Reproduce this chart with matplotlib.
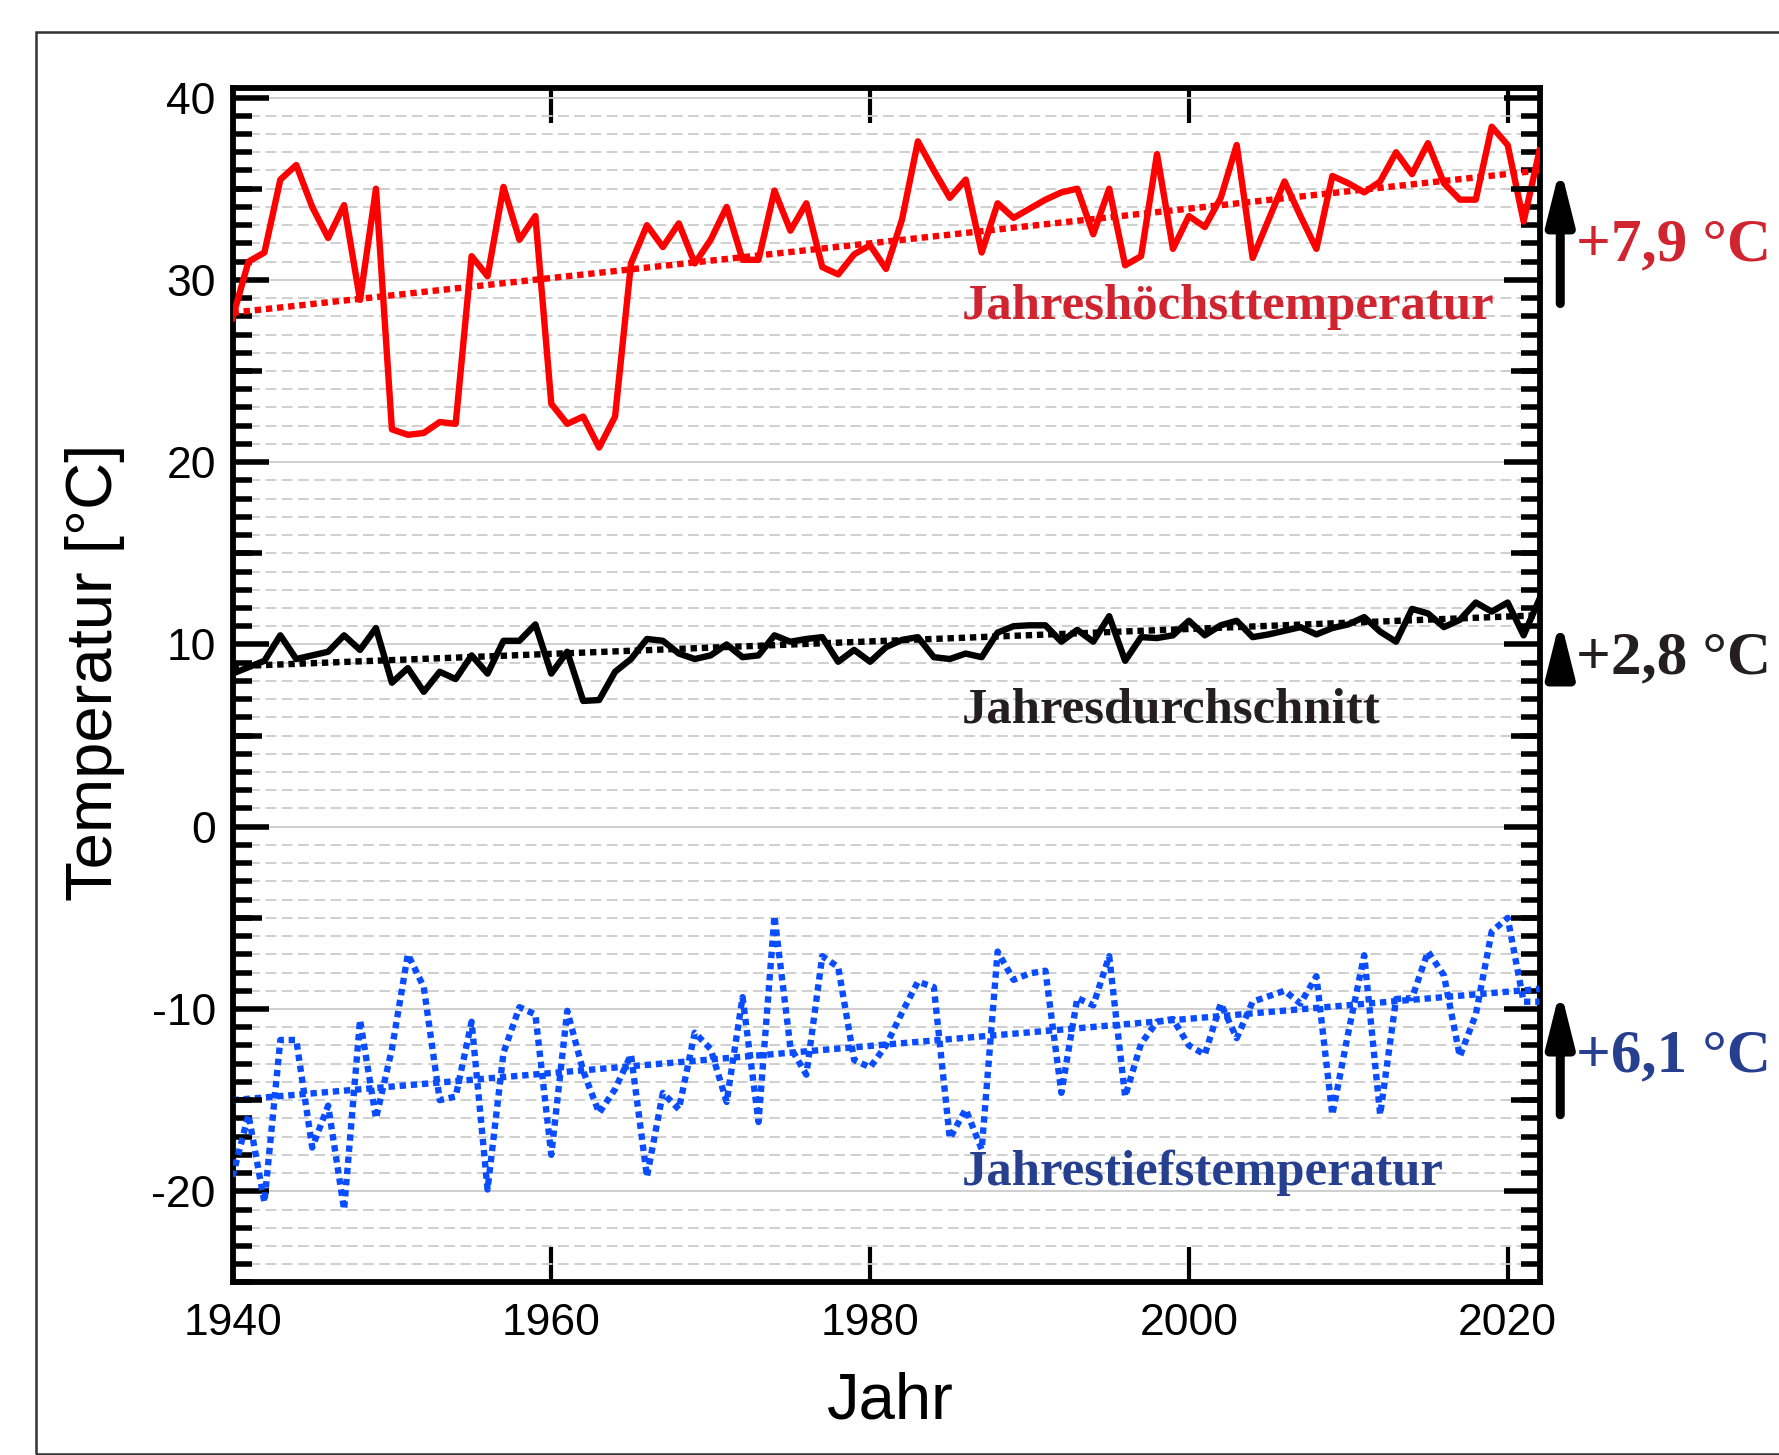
import matplotlib
matplotlib.use("Agg")
import matplotlib.pyplot as plt
import numpy as np
from matplotlib.patches import Rectangle
from matplotlib.ticker import FixedLocator, MultipleLocator, NullLocator

plt.rcParams['font.family'] = ['Liberation Sans', 'DejaVu Sans']
plt.rcParams['axes.unicode_minus'] = False

# Jahreswerte 1940-2022
years = np.arange(1940, 2023)

t_max = [27.9, 31.0, 31.5, 35.5, 36.3, 34.0, 32.3, 34.1, 28.9, 35.0,
         21.8, 21.5, 21.6, 22.2, 22.1, 31.3, 30.2, 35.1, 32.2, 33.5,
         23.2, 22.1, 22.5, 20.8, 22.5, 30.9, 33.0, 31.8, 33.1, 30.9,
         32.2, 34.0, 31.1, 31.1, 34.9, 32.7, 34.2, 30.7, 30.3, 31.4,
         31.9, 30.6, 33.3, 37.6, 36.0, 34.5, 35.5, 31.5, 34.2, 33.4,
         33.9, 34.4, 34.8, 35.0, 32.5, 35.0, 30.8, 31.3, 36.9, 31.7,
         33.5, 32.9, 34.5, 37.4, 31.2, 33.3, 35.4, 33.5, 31.7, 35.7,
         35.3, 34.8, 35.4, 37.0, 35.8, 37.5, 35.3, 34.4, 34.4, 38.4,
         37.4, 33.2, 37.1]

t_mean = [8.4, 8.75, 9.1, 10.5, 9.2, 9.4, 9.6, 10.5, 9.7, 10.9,
          7.9, 8.7, 7.4, 8.5, 8.1, 9.4, 8.4, 10.2, 10.2, 11.1,
          8.4, 9.6, 6.9, 6.95, 8.5, 9.2, 10.3, 10.2, 9.5, 9.2,
          9.4, 10.0, 9.3, 9.4, 10.5, 10.15, 10.3, 10.4, 9.05, 9.7,
          9.05, 9.85, 10.25, 10.4, 9.3, 9.2, 9.5, 9.3, 10.65, 11.0,
          11.05, 11.05, 10.15, 10.8, 10.15, 11.55, 9.1, 10.4, 10.35, 10.5,
          11.3, 10.5, 11.05, 11.3, 10.4, 10.55, 10.75, 10.95, 10.55, 10.9,
          11.1, 11.5, 10.7, 10.15, 11.95, 11.7, 10.95, 11.35, 12.3, 11.8,
          12.3, 10.5, 12.5]

t_min = [-19.2, -15.8, -20.6, -11.7, -11.7, -17.6, -15.3, -21.0, -10.6, -16.0,
         -12.2, -7.0, -8.8, -15.0, -14.8, -10.7, -19.9, -12.4, -9.9, -10.3,
         -18.0, -10.1, -13.4, -15.7, -14.4, -12.5, -19.2, -14.6, -15.5, -11.3,
         -12.2, -15.1, -9.35, -16.2, -4.9, -12.1, -13.6, -7.1, -7.7, -12.8,
         -13.2, -12.0, -10.2, -8.5, -8.8, -17.1, -15.5, -17.7, -6.85, -8.4,
         -8.05, -7.9, -14.6, -9.4, -9.8, -7.1, -14.8, -11.9, -10.7, -10.55,
         -12.0, -12.5, -9.7, -11.6, -9.6, -9.3, -9.0, -9.7, -8.2, -15.8,
         -11.3, -7.05, -15.8, -9.45, -9.4, -6.85, -8.15, -12.6, -10.3, -5.75,
         -5.0, -9.6, -9.6]

# lineare Trends (Endpunkte)
trend_years = [1940, 2022]
trend_max = [28.2, 36.0]
trend_mean = [8.8, 11.6]
trend_min = [-15.0, -8.9]

x_ticks = [1940, 1960, 1980, 2000, 2020]
y_ticks = [-20, -10, 0, 10, 20, 30, 40]
y_mid_ticks = [-15, -5, 5, 15, 25, 35]

labels = ['Jahreshöchsttemperatur', 'Jahresdurchschnitt', 'Jahrestiefstemperatur']
changes = ['+7,9 °C', '+2,8 °C', '+6,1 °C']

red = '#ff0000'
blue = '#0a4dff'
red_txt = '#d02531'
dark_txt = '#231f20'
blue_txt = '#263f8f'

fig = plt.figure(figsize=(17.79, 14.55), dpi=100)
ax = fig.add_axes([0.1307, 0.1186, 0.7347, 0.8206])
ax2 = ax.twinx()

# outer frame
fig.add_artist(Rectangle((0.0202, 0.0008), 1.2, 0.9772, transform=fig.transFigure,
                         fill=False, lw=1.8, ec='#333333'))

lw = 4.6
dots = (0, (1, 0.75))
ax.plot(years, t_max, color=red, lw=lw, zorder=3)
ax.plot(years, t_mean, color='black', lw=lw, zorder=3)
ax.plot(years, t_min, color=blue, lw=lw, ls=dots, zorder=3)
ax.plot(trend_years, trend_max, color=red, lw=lw, ls=dots, zorder=4)
ax.plot(trend_years, trend_mean, color='black', lw=lw, ls=dots, zorder=4)
ax.plot(trend_years, trend_min, color=blue, lw=lw, ls=dots, zorder=4)

ax.set_xlim(1940, 2022)
ax.set_ylim(-25, 40.5)
ax2.set_ylim(-25, 40.5)

ax.xaxis.set_major_locator(FixedLocator(x_ticks))
ax.xaxis.set_minor_locator(NullLocator())
ax.yaxis.set_major_locator(FixedLocator(y_ticks))
ax.yaxis.set_minor_locator(MultipleLocator(1))
ax2.yaxis.set_major_locator(FixedLocator(y_mid_ticks))
ax2.yaxis.set_minor_locator(NullLocator())

ax.tick_params(axis='y', which='major', direction='in', length=26, width=4,
               left=True, right=True, labelsize=32, pad=12)
ax.tick_params(axis='y', which='minor', direction='in', length=14, width=4,
               left=True, right=True)
ax.tick_params(axis='x', which='major', direction='in', length=25, width=3,
               top=True, bottom=True, labelsize=32, pad=15)
ax2.tick_params(axis='y', which='major', direction='in', length=21, width=4,
                left=True, right=True, labelleft=False, labelright=False)
for s in ax2.spines.values():
    s.set_visible(False)
for s in ax.spines.values():
    s.set_linewidth(4.2)

ax.yaxis.grid(True, which='major', color='#cccccc', lw=1.3, ls='-')
ax.yaxis.grid(True, which='minor', color='#cccccc', lw=1.3, ls=(0, (6, 3)))
ax.set_axisbelow(True)

ax.set_xlabel('Jahr', fontsize=47, va='center')
ax.xaxis.set_label_coords(0.5036, -0.1)
ax.set_ylabel('Temperatur [°C]', fontsize=47, va='center')
ax.yaxis.set_label_coords(-0.1055, 0.511)

serif = ['Liberation Serif', 'DejaVu Serif']
label_y = [27.85, 5.73, -19.68]
label_c = [red_txt, dark_txt, blue_txt]
for txt, yy, c in zip(labels, label_y, label_c):
    ax.text(1985.75, yy, txt, fontsize=36.5, fontweight='bold', family=serif,
            color=c, va='baseline', ha='left', zorder=5)

# arrows and change labels on the right
arrow_x = 2023.3
arrows = [(28.7, 36.2), (8.0, 11.4), (-15.8, -8.9)]
change_y = [31.06, 8.4, -13.4]
for (y0, y1), txt, yy, c in zip(arrows, changes, change_y, label_c):
    ax.annotate('', xy=(arrow_x, y1), xytext=(arrow_x, y0),
                arrowprops=dict(arrowstyle='-|>,head_length=1.6,head_width=0.4',
                                mutation_scale=20, lw=6.5, color='black',
                                shrinkA=0, shrinkB=0),
                annotation_clip=False)
    ax.text(2024.3, yy, txt, fontsize=44, fontweight='bold', family=serif,
            color=c, va='baseline', ha='left', clip_on=False)

fig.savefig('out.png', dpi=100)
